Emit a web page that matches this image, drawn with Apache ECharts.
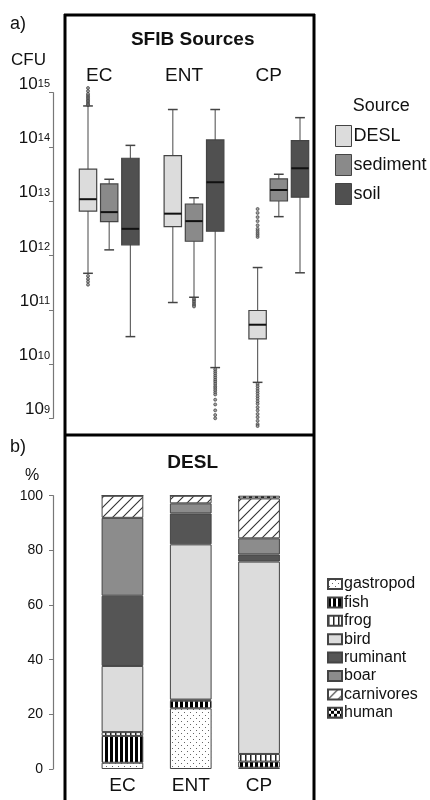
<!DOCTYPE html>
<html>
<head>
<meta charset="utf-8">
<script src="https://cdn.jsdelivr.net/npm/echarts@6/dist/echarts.min.js"></script>
<style>
	html, body { margin: 0; padding: 0; background: #fff; }
	#chart { width: 430px; height: 800px; }
</style>
</head>
<body>
<div id="chart"></div>
<script>
// a) box plots, CFU per source  [min, q1, median, q3, max]
const groups = ['EC', 'ENT', 'CP'];
const sources = ['DESL', 'sediment', 'soil'];
const deslBoxes = [[4.7e11, 6.6e12, 1.09e13, 3.9e13, 5.7e14], [1.36e11, 3.4e12, 5.9e12, 6.9e13, 4.9e14], [4.6e9, 2.9e10, 5.3e10, 9.7e10, 6.0e11]];
const sedimentBoxes = [[1.27e12, 4.2e12, 6.3e12, 2.08e13, 2.54e13], [1.7e11, 1.83e12, 4.3e12, 8.9e12, 1.16e13], [5.2e12, 1.01e13, 1.61e13, 2.58e13, 3.14e13]];
const soilBoxes = [[3.2e10, 1.57e12, 3.1e12, 6.2e13, 1.07e14], [8.6e9, 2.8e12, 2.24e13, 1.35e14, 4.9e14], [4.8e11, 1.19e13, 4.05e13, 1.31e14, 3.47e14]];

// outliers per group (EC, ENT, CP)
const deslOutliers = [
	[5.9e14, 6.2e14, 6.6e14, 7.0e14, 7.4e14, 7.9e14, 8.4e14, 8.9e14, 9.5e14, 1.07e15, 1.22e15, 4.2e11, 3.7e11, 3.3e11, 2.9e11],
	[],
	[2.2e12, 2.4e12, 2.6e12, 2.85e12, 3.1e12, 3.6e12, 4.3e12, 5.1e12, 6.1e12, 7.2e12,
	 4.3e9, 3.9e9, 3.5e9, 3.15e9, 2.85e9, 2.55e9, 2.3e9, 2.05e9, 1.85e9, 1.6e9, 1.4e9, 1.2e9, 1.05e9, 0.9e9, 0.78e9, 0.72e9]
];
const sedimentOutliers = [[], [1.6e11, 1.5e11, 1.4e11, 1.3e11, 1.22e11, 1.15e11], []];
const soilOutliers = [[], [8.0e9, 7.3e9, 6.7e9, 6.1e9, 5.6e9, 5.1e9, 4.7e9, 4.3e9, 3.9e9, 3.6e9, 3.3e9, 3.0e9, 2.75e9, 2.2e9, 1.8e9, 1.4e9, 1.15e9, 1.0e9], []];

// b) DESL composition, %
const barCats = ['EC', 'ENT', 'CP'];
const gastropod = [2.3, 22.2, 0.5];
const fish = [9.8, 2.8, 2.2];
const frog = [1.4, 0.4, 2.8];
const bird = [24.2, 56.8, 70.4];
const ruminant = [25.7, 11.3, 2.6];
const boar = [28.5, 3.7, 5.9];
const carnivores = [8.1, 2.8, 14.6];
const human = [0, 0, 1.0];

const FONT = '"Liberation Sans", Arial, sans-serif';
const sourceColors = ['#dcdcdc', '#8a8a8a', '#505050'];

function makePattern(w, h, draw) {
	let c = document.createElement('canvas');
	c.width = w;
	c.height = h;
	let ctx = c.getContext('2d');
	ctx.fillStyle = '#fff';
	ctx.fillRect(0, 0, w, h);
	draw(ctx);
	return { image: c, repeat: 'repeat' };
}

const patGastropod = makePattern(6, 6, function(ctx) {
	ctx.fillStyle = '#666';
	ctx.fillRect(1, 1, 1, 1);
	ctx.fillRect(4, 4, 1, 1);
});
const patFish = makePattern(5, 4, function(ctx) {
	ctx.fillStyle = '#000';
	ctx.fillRect(0, 0, 3, 4);
});
const patFrog = makePattern(5, 4, function(ctx) {
	ctx.fillStyle = '#222';
	ctx.fillRect(0, 0, 1.5, 4);
});
const patCarn = makePattern(10, 10, function(ctx) {
	ctx.strokeStyle = '#333';
	ctx.lineWidth = 1.1;
	ctx.beginPath();
	ctx.moveTo(0, 10); ctx.lineTo(10, 0);
	ctx.moveTo(-1, 1); ctx.lineTo(1, -1);
	ctx.moveTo(9, 11); ctx.lineTo(11, 9);
	ctx.stroke();
});
const patHuman = makePattern(6, 6, function(ctx) {
	ctx.fillStyle = '#000';
	ctx.fillRect(0, 0, 3, 3);
	ctx.fillRect(3, 3, 3, 3);
});

let slots = [];
for (let i = 0; i < groups.length * 4 - 1; i++) slots.push(String(i));

function boxData(boxes, si) {
	return boxes.map((b, gi) => [gi * 4 + si].concat(b));
}
function outlierData(list, si) {
	let out = [];
	list.forEach((vals, gi) => vals.forEach(v => out.push([gi * 4 + si, v])));
	return out;
}

function renderBox(params, api) {
	let slot = api.value(0);
	let lo = api.coord([slot, api.value(1)]);
	let q1 = api.coord([slot, api.value(2)]);
	let md = api.coord([slot, api.value(3)]);
	let q3 = api.coord([slot, api.value(4)]);
	let hi = api.coord([slot, api.value(5)]);
	let band = api.coord([1, api.value(3)])[0] - api.coord([0, api.value(3)])[0];
	let bw = band * 0.82, cw = band * 0.46;
	let x = md[0];
	return {
		type: 'group',
		children: [
			{ type: 'line', shape: { x1: x, y1: hi[1], x2: x, y2: lo[1] }, style: { stroke: '#666', lineWidth: 1.2 } },
			{ type: 'line', shape: { x1: x - cw / 2, y1: hi[1], x2: x + cw / 2, y2: hi[1] }, style: { stroke: '#444', lineWidth: 1.5 } },
			{ type: 'line', shape: { x1: x - cw / 2, y1: lo[1], x2: x + cw / 2, y2: lo[1] }, style: { stroke: '#444', lineWidth: 1.5 } },
			{ type: 'rect', shape: { x: x - bw / 2, y: q3[1], width: bw, height: q1[1] - q3[1] }, style: { fill: api.visual('color'), stroke: '#444', lineWidth: 1.2 } },
			{ type: 'line', shape: { x1: x - bw / 2, y1: md[1], x2: x + bw / 2, y2: md[1] }, style: { stroke: '#111', lineWidth: 2 } }
		]
	};
}

let boxSets = [deslBoxes, sedimentBoxes, soilBoxes];
let outlierSets = [deslOutliers, sedimentOutliers, soilOutliers];
let series = [];
sources.forEach((name, si) => {
	series.push({
		name: name,
		type: 'custom',
		xAxisIndex: 0,
		yAxisIndex: 0,
		itemStyle: { color: sourceColors[si] },
		encode: { x: 0, y: [1, 2, 3, 4, 5] },
		renderItem: renderBox,
		data: boxData(boxSets[si], si)
	});
});
sources.forEach((name, si) => {
	series.push({
		name: name + ' outliers',
		type: 'scatter',
		xAxisIndex: 0,
		yAxisIndex: 0,
		clip: false,
		symbol: 'circle',
		symbolSize: 3,
		itemStyle: { color: '#888', borderColor: '#333', borderWidth: 0.8 },
		data: outlierData(outlierSets[si], si)
	});
});

let bars = [
	['gastropod', gastropod, patGastropod],
	['fish', fish, patFish],
	['frog', frog, patFrog],
	['bird', bird, '#dcdcdc'],
	['ruminant', ruminant, '#555555'],
	['boar', boar, '#8c8c8c'],
	['carnivores', carnivores, patCarn],
	['human', human, patHuman]
];
bars.forEach(b => {
	series.push({
		name: b[0],
		type: 'bar',
		stack: 'desl',
		xAxisIndex: 1,
		yAxisIndex: 1,
		barWidth: 41.7,
		itemStyle: { color: b[2], borderColor: '#444', borderWidth: 1 },
		data: b[1]
	});
});

function txt(text, x, y, size, opts) {
	opts = opts || {};
	return {
		type: 'text', x: x, y: y, silent: true,
		style: {
			text: text, fontSize: size, fontFamily: FONT,
			fontWeight: opts.bold ? 'bold' : 'normal',
			fill: '#111', align: opts.align || 'left', verticalAlign: 'middle'
		}
	};
}
function frameLine(x1, y1, x2, y2) {
	return { type: 'line', silent: true, shape: { x1: x1, y1: y1, x2: x2, y2: y2 }, style: { stroke: '#000', lineWidth: 3 } };
}

let myChart = echarts.init(document.getElementById('chart'));
let option = {
	animation: false,
	backgroundColor: '#fff',
	textStyle: { fontFamily: FONT },
	grid: [
		{ left: 77.4, top: 92.7, width: 233.2, height: 325.6 },
		{ left: 88.3, top: 495.7, width: 204.9, height: 273.3 }
	],
	xAxis: [
		{
			gridIndex: 0, type: 'category', position: 'top', data: slots,
			axisLine: { show: false }, axisTick: { show: false },
			axisLabel: {
				interval: 0, margin: 7, fontSize: 19, color: '#111', padding: [0, 20, 0, 0],
				formatter: (v, i) => (i % 4 === 1 ? groups[(i - 1) / 4] : '')
			}
		},
		{
			gridIndex: 1, type: 'category', data: barCats,
			axisLine: { show: false }, axisTick: { show: false },
			axisLabel: { margin: 7, fontSize: 19, color: '#111' }
		}
	],
	yAxis: [
		{
			gridIndex: 0, type: 'log', logBase: 10, min: 1e9, max: 1e15, splitNumber: 6, offset: 24.4,
			axisLine: { show: true, lineStyle: { color: '#777', width: 1.2 } },
			axisTick: { show: true, length: 4, lineStyle: { color: '#777' } },
			splitLine: { show: false },
			axisLabel: {
				margin: 3, color: '#111', verticalAlign: 'bottom',
				formatter: v => '{b|10}{s|' + Math.round(Math.log10(v)) + '}',
				rich: {
					b: { fontSize: 17, lineHeight: 14, verticalAlign: 'bottom', fontFamily: FONT, color: '#111' },
					s: { fontSize: 11, lineHeight: 10, verticalAlign: 'top', fontFamily: FONT, color: '#111' }
				}
			}
		},
		{
			gridIndex: 1, type: 'value', min: 0, max: 100, interval: 20, offset: 35.3,
			axisLine: { show: true, lineStyle: { color: '#777', width: 1.2 } },
			axisTick: { show: true, length: 4, lineStyle: { color: '#777' } },
			splitLine: { show: false },
			axisLabel: { margin: 10, fontSize: 14, color: '#111' }
		}
	],
	legend: [
		{
			orient: 'vertical', left: 335, top: 125, padding: 0,
			itemWidth: 16, itemHeight: 21, itemGap: 7, icon: 'rect', selectedMode: false,
			textStyle: { fontSize: 18, color: '#111', fontFamily: FONT, padding: [0, 0, 0, -3] },
			data: sources.map((s, si) => ({ name: s, itemStyle: { color: sourceColors[si], borderColor: '#444', borderWidth: 1 } }))
		},
		{
			orient: 'vertical', left: 327, top: 576, padding: 0,
			itemWidth: 14, itemHeight: 10, itemGap: 2.4, icon: 'rect', selectedMode: false,
			textStyle: { fontSize: 16, color: '#111', fontFamily: FONT, lineHeight: 16, padding: [0, 0, 0, -3] },
			data: bars.map(b => b[0])
		}
	],
	graphic: [
		frameLine(64, 15, 315, 15),
		frameLine(65, 14, 65, 800),
		frameLine(314, 14, 314, 800),
		frameLine(64, 435, 315, 435),
		txt('a)', 10, 24, 18),
		txt('SFIB Sources', 192.7, 40, 19, { bold: true, align: 'center' }),
		txt('CFU', 11, 60, 17),
		txt('Source', 352.7, 106, 18),
		txt('b)', 10, 447, 18),
		txt('DESL', 192.7, 463, 19, { bold: true, align: 'center' }),
		txt('%', 25, 476, 16)
	],
	series: series
};
myChart.setOption(option);
</script>
</body>
</html>
